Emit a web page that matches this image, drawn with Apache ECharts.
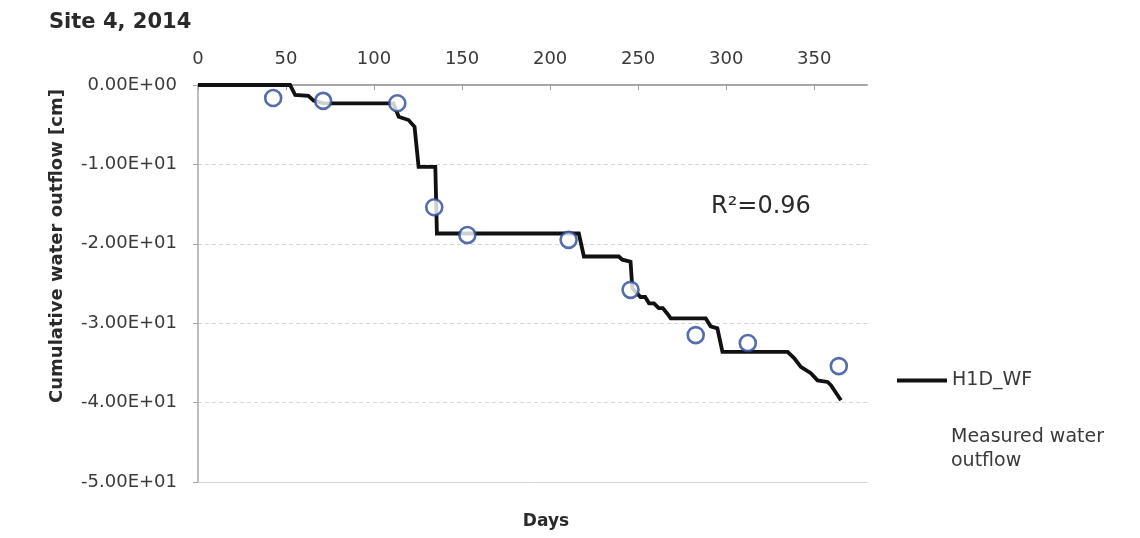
<!DOCTYPE html>
<html>
<head>
<meta charset="utf-8">
<script src="https://cdn.jsdelivr.net/npm/echarts@6/dist/echarts.min.js"></script>
<style>
html,body{margin:0;padding:0;background:#fff;}
#chart{width:1140px;height:538px;}
</style>
</head>
<body>
<div id="chart"></div>
<script>
// ---- data ----
const titleText = 'Site 4, 2014';
const xAxisName = 'Days';
const yAxisName = 'Cumulative water outflow [cm]';
const r2Text = 'R\u00B2=0.96';
const lineName = 'H1D_WF';
const measName = 'Measured water outflow';

const xTickValues = [0, 50, 100, 150, 200, 250, 300, 350];
const yTickValues = [0, -10, -20, -30, -40, -50];

// simulated cumulative outflow (H1D_WF) vertices
const lineDays = [0, 52.3, 55.2, 62.7, 65.6, 71.3, 111, 114, 119.6, 123, 125.3, 134.8, 135.7,
  216.3, 219.2, 239, 241, 245.7, 246.7, 251.4, 254, 256.2, 259, 261.7, 264, 266.6, 268.5,
  288.4, 291.2, 295, 297.9, 334.9, 338.6, 342.4, 348.1, 351.9, 357.6, 359.5, 365.2];
const lineValues = [0, 0, -1.26, -1.38, -1.97, -2.31, -2.31, -3.99, -4.41, -5.25, -10.3, -10.3, -18.7,
  -18.7, -21.6, -21.6, -22.0, -22.25, -25.6, -26.7, -26.7, -27.5, -27.5, -28.1, -28.1, -28.8, -29.4,
  -29.4, -30.4, -30.65, -33.6, -33.6, -34.4, -35.5, -36.3, -37.2, -37.4, -37.8, -39.7];

// measured water outflow
const measDays = [42.7, 71.1, 113.2, 134.2, 153, 210.5, 245.7, 282.7, 312.3, 364];
const measValues = [-1.64, -2.0, -2.3, -15.4, -18.9, -19.5, -25.8, -31.5, -32.5, -35.4];

// ---- chart ----
const FONT = 'DejaVu Sans';
const TXT = '#3a3a3a';

function sci(v) {
  const s = Number(v).toExponential(2); // e.g. -1.00e+1
  const m = s.match(/^(-?\d\.\d+)e([+-])(\d+)$/);
  let exp = m[3];
  if (exp.length < 2) exp = '0' + exp;
  return m[1] + 'E' + m[2] + exp;
}

const chart = echarts.init(document.getElementById('chart'), null, {renderer: 'canvas'});

const option = {
  backgroundColor: '#ffffff',
  animation: false,
  title: {
    text: titleText,
    left: 49, top: 12, padding: 0,
    textStyle: {fontFamily: FONT, fontSize: 21, fontWeight: 'bold', color: '#2a2a2a'}
  },
  grid: {left: 198, right: 273, top: 85, bottom: 56, containLabel: false},
  legend: [
    {
      data: [{name: lineName, icon: 'rect'}],
      left: 892, top: 366,
      itemWidth: 50, itemHeight: 4, itemGap: 5,
      textStyle: {fontFamily: FONT, fontSize: 19, color: TXT}
    },
    {
      data: [{name: measName, icon: 'circle', itemStyle: {opacity: 0}}],
      left: 930, top: 420,
      itemWidth: 10, itemHeight: 10,
      formatter: function () { return 'Measured water\noutflow'; },
      textStyle: {fontFamily: FONT, fontSize: 19, color: TXT, lineHeight: 24}
    }
  ],
  xAxis: [
    {
      type: 'value', position: 'top', min: 0, max: 380,
      axisLine: {show: true, onZero: false, lineStyle: {color: '#a8a8a8', width: 2}},
      axisTick: {show: true, inside: true, length: 5, customValues: xTickValues, lineStyle: {color: '#999'}},
      axisLabel: {customValues: xTickValues, margin: 17, fontFamily: FONT, fontSize: 18, color: TXT},
      splitLine: {show: false}
    },
    {
      type: 'value', position: 'bottom', min: 0, max: 380,
      axisLine: {show: true, onZero: false, lineStyle: {color: '#d4d4d4', width: 1}},
      axisTick: {show: false}, axisLabel: {show: false}, splitLine: {show: false}
    }
  ],
  yAxis: {
    type: 'value', min: -50, max: 0, interval: 10,
    axisLine: {show: true, onZero: false, lineStyle: {color: '#a8a8a8', width: 1.5}},
    axisTick: {show: true, inside: false, length: 5, lineStyle: {color: '#a8a8a8'}},
    axisLabel: {margin: 21, fontFamily: FONT, fontSize: 18, color: TXT, formatter: sci},
    splitLine: {show: true, lineStyle: {color: '#d6d6d6', type: [4, 3], width: 1}}
  },
  graphic: [
    {
      type: 'text', x: 57, y: 246, rotation: Math.PI / 2,
      style: {text: yAxisName, fontFamily: FONT, fontSize: 18, fontWeight: 'bold', fill: '#2a2a2a',
        align: 'center', verticalAlign: 'middle'}
    },
    {
      type: 'text', x: 546, y: 522,
      style: {text: xAxisName, fontFamily: FONT, fontSize: 17, fontWeight: 'bold', fill: '#2a2a2a',
        align: 'center', verticalAlign: 'middle'}
    },
    {
      type: 'text', x: 711, y: 207,
      style: {text: r2Text, fontFamily: FONT, fontSize: 24, fill: '#2a2a2a',
        align: 'left', verticalAlign: 'middle'}
    }
  ],
  series: [
    {
      name: lineName, type: 'line', xAxisIndex: 0,
      data: lineDays.map((d, i) => [d, lineValues[i]]),
      showSymbol: false, symbol: 'none',
      lineStyle: {color: '#111111', width: 3.8, join: 'miter'},
      itemStyle: {color: '#111111'},
      z: 3
    },
    {
      name: measName, type: 'scatter', xAxisIndex: 0,
      data: measDays.map((d, i) => [d, measValues[i]]),
      symbol: 'circle', symbolSize: 16,
      itemStyle: {color: '#ffffff', borderColor: '#2a4896', borderWidth: 2.6},
      z: 4
    }
  ]
};
chart.setOption(option);
</script>
</body>
</html>
